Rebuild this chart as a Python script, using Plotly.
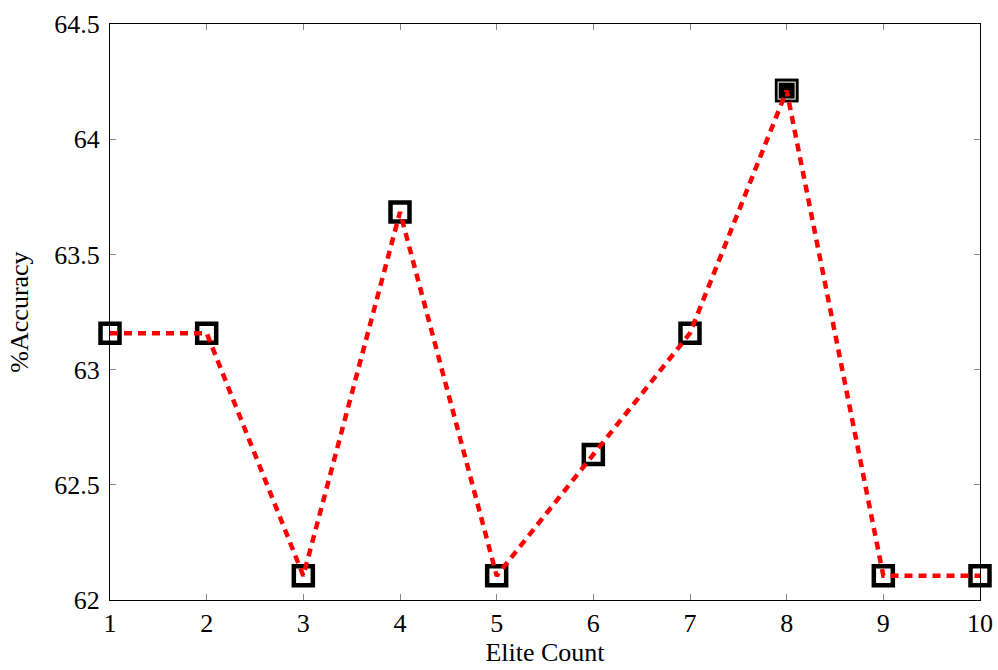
import plotly.graph_objects as go

elite_count = [1, 2, 3, 4, 5, 6, 7, 8, 9, 10]
accuracy = [63.158, 63.158, 62.105, 63.684, 62.105, 62.632, 63.158, 64.211, 62.105, 62.105]
best_idx = 7

x_ticks = [1, 2, 3, 4, 5, 6, 7, 8, 9, 10]
y_ticks = [62, 62.5, 63, 63.5, 64, 64.5]
y_tick_text = ["62", "62.5", "63", "63.5", "64", "64.5"]

font_family = "Liberation Serif"
font_size = 26

fig = go.Figure()

# square markers underneath the dashed line
fig.add_trace(go.Scatter(
    x=elite_count, y=accuracy, mode="markers",
    marker=dict(symbol="square", size=19, color="white",
                line=dict(color="black", width=4.5)),
    hoverinfo="skip", showlegend=False, cliponaxis=False,
))
# highlighted best point
fig.add_trace(go.Scatter(
    x=[elite_count[best_idx]], y=[accuracy[best_idx]], mode="markers",
    marker=dict(symbol="square", size=19, color="black",
                line=dict(color="black", width=4.5)),
    hoverinfo="skip", showlegend=False, cliponaxis=False,
))
fig.add_trace(go.Scatter(
    x=[elite_count[best_idx]], y=[accuracy[best_idx]], mode="markers",
    marker=dict(symbol="square-open", size=17, color="#d8d8c8",
                line=dict(width=1.2)),
    hoverinfo="skip", showlegend=False, cliponaxis=False,
))
fig.add_trace(go.Scatter(
    x=elite_count, y=accuracy, mode="lines",
    line=dict(color="red", width=4.5, dash="8px,6px"),
    showlegend=False, cliponaxis=False,
))

axis_common = dict(
    showline=True, linecolor="black", linewidth=1.3, mirror="ticks",
    ticks="inside", ticklen=6, tickcolor="#888888", tickwidth=1,
    showgrid=False, zeroline=False, automargin=False,
    tickfont=dict(family=font_family, size=font_size, color="black"),
)

fig.update_layout(
    width=998, height=670,
    margin=dict(l=110, r=18, t=24, b=70),
    paper_bgcolor="white", plot_bgcolor="white",
    font=dict(family=font_family, color="black"),
    xaxis=dict(range=[1, 10], tickvals=x_ticks, ticklabelstandoff=0,
               title=dict(text="Elite Count", font=dict(family=font_family, size=font_size), standoff=4),
               **axis_common),
    yaxis=dict(range=[62, 64.5], tickvals=y_ticks, ticktext=y_tick_text, ticklabelstandoff=4,
               title=dict(text="%Accuracy", font=dict(family=font_family, size=font_size), standoff=18),
               **axis_common),
)

fig.write_html("out.html")
